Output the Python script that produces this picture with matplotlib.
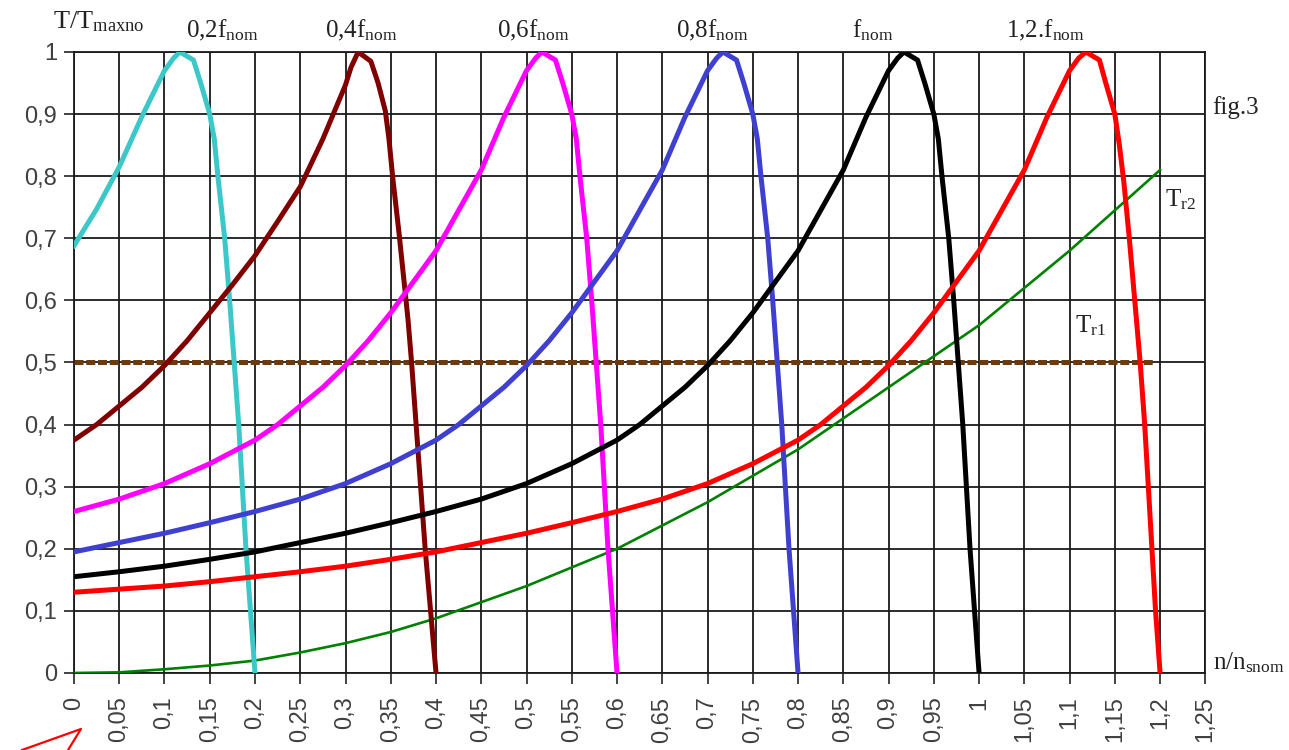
"""
Torque / speed curves for several supply frequencies (fig. 3).
"""

import matplotlib
matplotlib.use('Agg')
import matplotlib.pyplot as plt
from matplotlib.lines import Line2D

# n/n_snom positions and T/T_maxno values
x_02 = [0, 0.025, 0.05, 0.075, 0.1, 0.11, 0.117, 0.132, 0.14, 0.15, 0.155, 0.159,
        0.1665, 0.172, 0.177, 0.182, 0.186, 0.19, 0.195, 0.2]
t_02 = [0.688, 0.747, 0.815, 0.896, 0.97, 0.99, 1.0, 0.987, 0.95, 0.90, 0.86, 0.80,
        0.70, 0.60, 0.50, 0.40, 0.30, 0.20, 0.10, 0.0]

x_04 = [0, 0.025, 0.05, 0.075, 0.1, 0.125, 0.15, 0.175, 0.2, 0.225, 0.25, 0.275, 0.3,
        0.306, 0.314, 0.328, 0.336, 0.344, 0.348, 0.352, 0.359, 0.364, 0.369, 0.373,
        0.378, 0.383, 0.388, 0.394, 0.4]
t_04 = [0.375, 0.40, 0.43, 0.46, 0.495, 0.535, 0.58, 0.625, 0.672, 0.727, 0.783, 0.86, 0.947,
        0.975, 1.0, 0.985, 0.95, 0.905, 0.86, 0.80, 0.71, 0.64, 0.57, 0.50,
        0.40, 0.30, 0.20, 0.10, 0.0]

x_06 = [0, 0.05, 0.1, 0.15, 0.2, 0.225, 0.25, 0.275, 0.3, 0.325, 0.35, 0.375, 0.4, 0.425,
        0.45, 0.475, 0.5, 0.51, 0.517, 0.532, 0.54, 0.55, 0.555, 0.559, 0.5665, 0.572,
        0.577, 0.582, 0.586, 0.59, 0.595, 0.6]
t_06 = [0.26, 0.28, 0.305, 0.337, 0.375, 0.40, 0.43, 0.46, 0.495, 0.535, 0.58, 0.63, 0.68, 0.745,
        0.81, 0.895, 0.97, 0.99, 1.0, 0.987, 0.95, 0.90, 0.86, 0.80, 0.70, 0.60,
        0.50, 0.40, 0.30, 0.20, 0.10, 0.0]

x_08 = [0, 0.05, 0.1, 0.15, 0.2, 0.25, 0.3, 0.35, 0.4, 0.425, 0.45, 0.475, 0.5, 0.525, 0.55,
        0.575, 0.6, 0.625, 0.65, 0.675, 0.7, 0.71, 0.717, 0.732, 0.74, 0.75, 0.755, 0.759,
        0.7665, 0.772, 0.777, 0.782, 0.786, 0.79, 0.795, 0.8]
t_08 = [0.195, 0.21, 0.225, 0.242, 0.26, 0.28, 0.305, 0.337, 0.375, 0.40, 0.43, 0.46, 0.495,
        0.535, 0.58, 0.63, 0.68, 0.745, 0.81, 0.895, 0.97, 0.99, 1.0, 0.987, 0.95, 0.90,
        0.86, 0.80, 0.70, 0.60, 0.50, 0.40, 0.30, 0.20, 0.10, 0.0]

x_10 = [0, 0.05, 0.1, 0.15, 0.2, 0.25, 0.3, 0.35, 0.4, 0.45, 0.5, 0.55, 0.6, 0.625, 0.65,
        0.675, 0.7, 0.725, 0.75, 0.775, 0.8, 0.825, 0.85, 0.875, 0.9, 0.91, 0.917, 0.932,
        0.94, 0.95, 0.955, 0.959, 0.9665, 0.972, 0.977, 0.982, 0.986, 0.99, 0.995, 1.0]
t_10 = [0.155, 0.163, 0.172, 0.183, 0.195, 0.21, 0.225, 0.242, 0.26, 0.28, 0.305, 0.337,
        0.375, 0.40, 0.43, 0.46, 0.495, 0.535, 0.58, 0.63, 0.68, 0.745, 0.81, 0.895, 0.97,
        0.99, 1.0, 0.987, 0.95, 0.90, 0.86, 0.80, 0.70, 0.60, 0.50, 0.40, 0.30, 0.20,
        0.10, 0.0]

x_12 = [0, 0.05, 0.1, 0.15, 0.2, 0.25, 0.3, 0.35, 0.4, 0.45, 0.5, 0.55, 0.6, 0.65, 0.7,
        0.75, 0.8, 0.825, 0.85, 0.875, 0.9, 0.925, 0.95, 0.975, 1.0, 1.025, 1.05, 1.075,
        1.1, 1.11, 1.118, 1.133, 1.14, 1.15, 1.155, 1.16, 1.166, 1.172, 1.178, 1.183,
        1.187, 1.191, 1.195, 1.2]
t_12 = [0.13, 0.135, 0.14, 0.147, 0.155, 0.163, 0.172, 0.183, 0.195, 0.21, 0.225, 0.242,
        0.26, 0.28, 0.305, 0.337, 0.375, 0.40, 0.43, 0.46, 0.495, 0.535, 0.58, 0.63, 0.68,
        0.745, 0.81, 0.895, 0.97, 0.99, 1.0, 0.987, 0.95, 0.90, 0.85, 0.79, 0.70, 0.60,
        0.50, 0.40, 0.30, 0.20, 0.10, 0.0]

# load torques
x_tr1 = [0, 1.192]
t_tr1 = [0.5, 0.5]
x_tr2 = [0, 0.05, 0.1, 0.15, 0.2, 0.25, 0.3, 0.35, 0.4, 0.5, 0.6, 0.7, 0.8, 0.9, 1.0, 1.1, 1.2]
t_tr2 = [0, 0.001, 0.006, 0.012, 0.02, 0.033, 0.048, 0.066, 0.088, 0.14, 0.2, 0.275, 0.36,
         0.46, 0.56, 0.68, 0.81]

curve_labels = ['0,2f', '0,4f', '0,6f', '0,8f', 'f', '1,2.f']
label_x = [0.164, 0.317, 0.508, 0.705, 0.882, 1.073]
colors = ['#3cc8c8', '#800000', '#ff00ff', '#4040d0', '#000000', '#ff0000']

xticks = [round(0.05 * i, 2) for i in range(26)]
yticks = [round(0.1 * i, 1) for i in range(11)]

plt.rcParams['mathtext.fontset'] = 'custom'
plt.rcParams['mathtext.rm'] = 'Liberation Serif'
plt.rcParams['mathtext.it'] = 'Liberation Serif:italic'

serif = 'Liberation Serif'
sans = 'Liberation Sans'
txt_color = '#222222'

fig = plt.figure(figsize=(12.89, 7.5), dpi=100)
ax = fig.add_axes([0.0574, 0.1027, 0.8777, 0.828])

# Tr1 dashed line
ax.plot(x_tr1, t_tr1, color='#6b3a0e', linewidth=3.6, dashes=(1.8, 0.55),
        dash_capstyle='butt', zorder=3)
# Tr2 parabola
ax.plot(x_tr2, t_tr2, color='#008000', linewidth=1.9, zorder=4)

curves = [(x_02, t_02), (x_04, t_04), (x_06, t_06), (x_08, t_08), (x_10, t_10), (x_12, t_12)]
for (xs, ts), c in zip(curves, colors):
    ax.plot(xs, ts, color=c, linewidth=3.6, solid_joinstyle='round', zorder=5)

ax.set_xlim(0, 1.25)
ax.set_ylim(0, 1)
ax.set_xticks(xticks)
ax.set_yticks(yticks)
ax.set_xticklabels([f'{v:g}'.replace('.', ',') for v in xticks], rotation=90,
                   fontsize=17, family=sans, color='#404040')
ax.set_yticklabels([f'{v:g}'.replace('.', ',') for v in yticks],
                   fontsize=17, family=sans, color='#404040')
ax.tick_params(axis='x', length=8, width=1.2, pad=9, color='#222222')
ax.tick_params(axis='y', length=7, width=1.2, pad=5, color='#222222')
ax.grid(True, color='#1a1a1a', linewidth=1.3, zorder=1)
ax.set_axisbelow(True)
for sp in ax.spines.values():
    sp.set_color('#1a1a1a')
    sp.set_linewidth(1.3)

# labels of the frequency curves
for lab, lx in zip(curve_labels, label_x):
    ax.text(lx, 1.035, lab + r'$_{\mathrm{nom}}$', ha='center', va='center',
            fontsize=18, family=serif, color=txt_color, clip_on=False)

ax.text(1.106, 0.56, r'T$_{\mathrm{r1}}$', ha='left', va='center',
        fontsize=18, family=serif, color=txt_color)
ax.text(1.205, 0.762, r'T$_{\mathrm{r2}}$', ha='left', va='center',
        fontsize=18, family=serif, color=txt_color, clip_on=False)
ax.text(1.258, 0.91, 'fig.3', ha='left', va='center',
        fontsize=18, family=serif, color=txt_color, clip_on=False)
ax.text(1.258, 0.016, r'n/n$_{\mathrm{snom}}$', ha='left', va='center',
        fontsize=18, family=serif, color=txt_color, clip_on=False)
fig.text(0.041, 0.971, r'T/T$_{\mathrm{maxno}}$', ha='left', va='center',
         fontsize=19, family=serif, color=txt_color)

# red arrow head at bottom left
fig.add_artist(Line2D([0.0171, 0.0628, 0.0528], [0.0, 0.028, 0.0],
                      transform=fig.transFigure, color='#ff0000', linewidth=1.6))

plt.savefig('out.png', dpi=100)
plt.close()
